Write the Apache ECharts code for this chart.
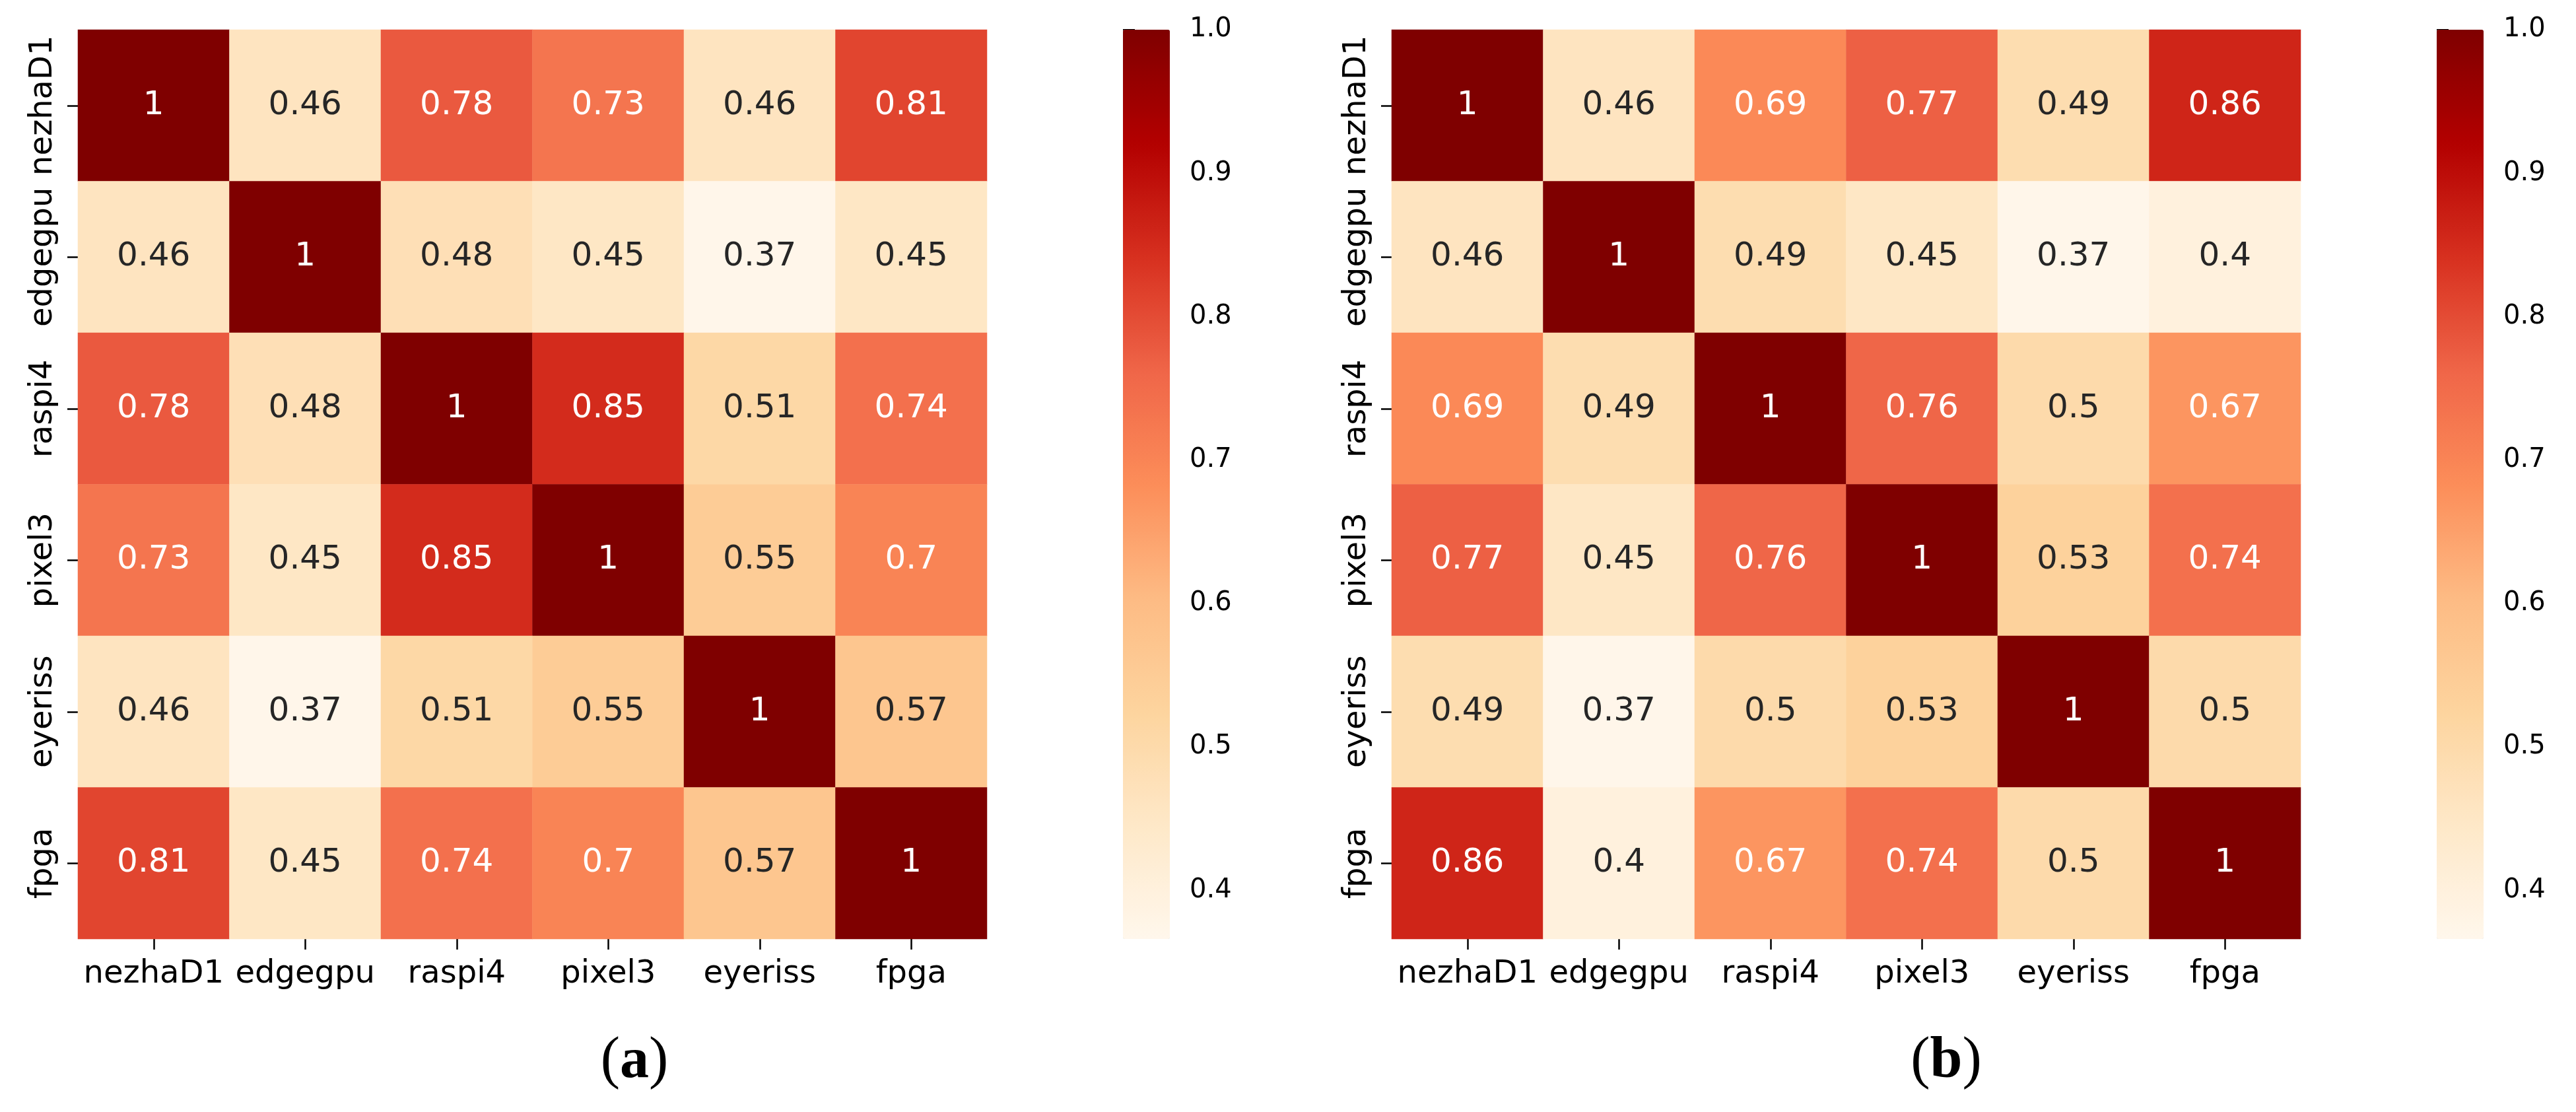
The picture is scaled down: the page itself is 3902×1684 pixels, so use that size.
<!DOCTYPE html>
<html>
<head>
<meta charset="utf-8">
<script src="https://cdn.jsdelivr.net/npm/echarts@6/dist/echarts.min.js"></script>
<style>
html,body{margin:0;padding:0;background:#fff;}
#chart{width:3902px;height:1684px;}
</style>
</head>
<body>
<div id="chart"></div>
<script>
const categories = ['nezhaD1', 'edgegpu', 'raspi4', 'pixel3', 'eyeriss', 'fpga'];

const valuesA = [
  [1, 0.46, 0.78, 0.73, 0.46, 0.81],
  [0.46, 1, 0.48, 0.45, 0.37, 0.45],
  [0.78, 0.48, 1, 0.85, 0.51, 0.74],
  [0.73, 0.45, 0.85, 1, 0.55, 0.7],
  [0.46, 0.37, 0.51, 0.55, 1, 0.57],
  [0.81, 0.45, 0.74, 0.7, 0.57, 1]
];

const valuesB = [
  [1, 0.46, 0.69, 0.77, 0.49, 0.86],
  [0.46, 1, 0.49, 0.45, 0.37, 0.4],
  [0.69, 0.49, 1, 0.76, 0.5, 0.67],
  [0.77, 0.45, 0.76, 1, 0.53, 0.74],
  [0.49, 0.37, 0.5, 0.53, 1, 0.5],
  [0.86, 0.4, 0.67, 0.74, 0.5, 1]
];

const colorbarTicks = [0.4, 0.5, 0.6, 0.7, 0.8, 0.9, 1.0];
const colorMin = 0.366;
const colorMax = 1.0;
const captions = ['a', 'b'];

const orRd = ['#fff7ec', '#fee8c8', '#fdd49e', '#fdbb84', '#fc8d59', '#ef6548', '#d7301f', '#b30000', '#7f0000'];

const FONT = 'DejaVu Sans';

function buildData(mat) {
  const out = [];
  mat.forEach((row, i) => {
    row.forEach((v, j) => {
      out.push({
        value: [j, i, v],
        label: { color: v > 0.6 ? '#ffffff' : '#262626' }
      });
    });
  });
  return out;
}

const heatLeft = [118, 2108];
const barLeft = [1701, 3691];
const TOP = 45, SIZE = 1377, BARW = 71;

const grids = [], xAxes = [], yAxes = [], series = [], visualMaps = [], graphics = [];

[valuesA, valuesB].forEach((mat, k) => {
  grids.push({ left: heatLeft[k], top: TOP, width: SIZE, height: SIZE, containLabel: false });
  grids.push({ left: barLeft[k], top: TOP, width: BARW, height: SIZE, containLabel: false });
  const gh = k * 2, gb = k * 2 + 1;
  xAxes.push({
    type: 'category', gridIndex: gh, data: categories, position: 'bottom',
    axisLine: { show: false },
    axisTick: { show: true, alignWithLabel: true, length: 16, lineStyle: { color: '#000', width: 2.5 } },
    axisLabel: { fontFamily: FONT, fontSize: 48, color: '#000', margin: 30, interval: 0 },
    splitLine: { show: false }
  });
  yAxes.push({
    type: 'category', gridIndex: gh, data: categories, inverse: true, position: 'left',
    axisLine: { show: false },
    axisTick: { show: true, alignWithLabel: true, length: 16, lineStyle: { color: '#000', width: 2.5 } },
    axisLabel: { fontFamily: FONT, fontSize: 48, color: '#000', margin: 28, rotate: 90, interval: 0 },
    splitLine: { show: false }
  });
  xAxes.push({ type: 'value', gridIndex: gb, show: false, min: 0, max: 1 });
  yAxes.push({
    type: 'value', gridIndex: gb, position: 'right', min: colorMin, max: colorMax,
    axisLine: { show: false },
    splitLine: { show: false },
    axisTick: { show: true, customValues: colorbarTicks, length: 18, lineStyle: { color: '#000', width: 3 } },
    axisLabel: { show: true, customValues: colorbarTicks, fontFamily: FONT, fontSize: 40, color: '#000', margin: 30,
      formatter: v => Number(v).toFixed(1) }
  });
  series.push({
    type: 'heatmap', xAxisIndex: gh, yAxisIndex: gh,
    data: buildData(mat),
    label: { show: true, fontFamily: FONT, fontSize: 50, formatter: p => String(p.value[2]) },
    itemStyle: { borderWidth: 0 },
    emphasis: { disabled: true },
    progressive: 0
  });
  visualMaps.push({
    type: 'continuous', seriesIndex: k, min: colorMin, max: colorMax,
    calculable: false, realtime: false, show: true,
    orient: 'vertical', left: barLeft[k], top: TOP, itemWidth: BARW, itemHeight: SIZE,
    padding: 0, text: null, showLabel: false,
    inRange: { color: orRd }
  });
  graphics.push({
    type: 'text', left: 'center', x: 0,
    style: {
      x: [961, 2948][k], y: 1608,
      text: '{p|(}{b|' + captions[k] + '}{p|)}',
      align: 'center', verticalAlign: 'middle',
      rich: {
        p: { fontFamily: 'Liberation Serif', fontSize: 88, fill: '#000' },
        b: { fontFamily: 'Liberation Serif', fontSize: 88, fontWeight: 'bold', fill: '#000' }
      }
    }
  });
});

// place caption text explicitly
graphics.forEach(g => { delete g.left; delete g.x; });

const chart = echarts.init(document.getElementById('chart'), null, { renderer: 'canvas' });
chart.setOption({
  animation: false,
  backgroundColor: '#ffffff',
  grid: grids,
  xAxis: xAxes,
  yAxis: yAxes,
  visualMap: visualMaps,
  series: series,
  graphic: graphics
});
</script>
</body>
</html>
